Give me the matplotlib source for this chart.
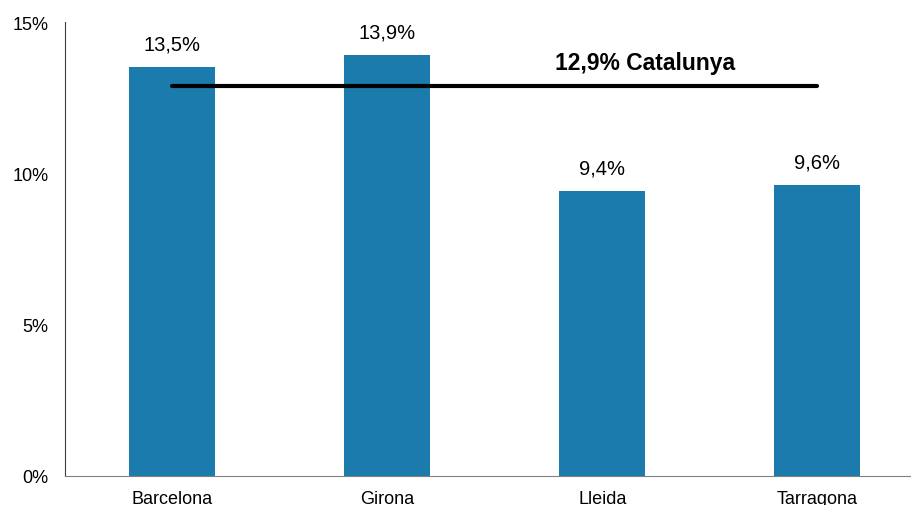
import matplotlib.pyplot as plt
import numpy as np

plt.rcParams['font.family'] = ['Liberation Sans', 'DejaVu Sans']

provincies = ["Barcelona", "Girona", "Lleida", "Tarragona"]
valors = [13.5, 13.9, 9.4, 9.6]
catalunya = 12.9

fig = plt.figure(figsize=(9.12, 5.06), dpi=100)
ax = fig.add_axes([65 / 912, 29 / 506, 847 / 912, 454 / 506])

x = np.arange(len(provincies))
ax.bar(x, valors, 0.4, color='#1C7BAD')
for xi, v in zip(x, valors):
    ax.annotate(f"{v:.1f}%".replace('.', ','), (xi, v), xytext=(0, 17),
                textcoords='offset points', ha='center', va='center', fontsize=14.5)

ax.plot([x[0], x[-1]], [catalunya, catalunya], color='black', lw=3, solid_capstyle='round')
ax.text(2.2, catalunya + 0.77, f"{catalunya:.1f}% Catalunya".replace('.', ','),
        ha='center', va='center', fontsize=16.5, fontweight='bold')

ax.set_xlim(-0.5, 3.44)
ax.set_ylim(0, 15)
ax.set_yticks([0, 5, 10, 15])
ax.set_yticklabels(["0%", "5%", "10%", "15%"])
ax.set_xticks(x)
ax.set_xticklabels(provincies)
ax.tick_params(length=0, labelsize=13)
ax.tick_params(axis='y', pad=12)
ax.tick_params(axis='x', pad=10)
for s in ['top', 'right']:
    ax.spines[s].set_visible(False)
ax.spines['left'].set_color('#404040')
ax.spines['bottom'].set_color('#808080')

plt.savefig("out.png", dpi=100)
